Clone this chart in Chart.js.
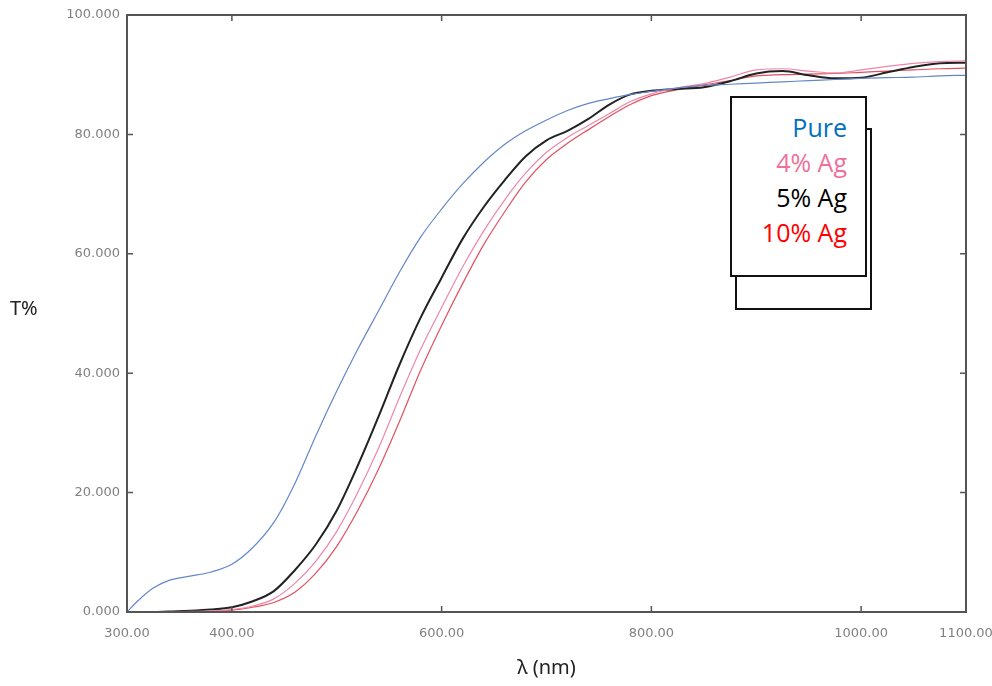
<!DOCTYPE html>
<html>
<head>
<meta charset="utf-8">
<script src="https://cdn.jsdelivr.net/npm/chart.js@4.4.0/dist/chart.umd.min.js"></script>
<style>
  body { margin: 0; background: #fff; }
  #wrap { position: relative; width: 992px; height: 686px; }
  #c { position: absolute; left: 0; top: 0; }
  .ylab { position: absolute; left: 10px; top: 294px; font: 20px "Noto Sans", sans-serif; color: #222; }
  .box { position: absolute; background: #fff; box-sizing: border-box; }
  #back { left: 735px; top: 128px; width: 137px; height: 182px; border: 2px solid #111; }
  #front { left: 730px; top: 96px; width: 137px; height: 181px; border: 2px solid #111;
           text-align: right; padding: 12px 18px 0 0; font: 25px "Open Sans", sans-serif; line-height: 35px; }
</style>
</head>
<body>
<div id="wrap">
  <canvas id="c" width="992" height="686"></canvas>
  <div class="ylab">T%</div>
  <div class="box" id="back"></div>
  <div class="box" id="front"></div>
</div>
<script>
// wavelength (nm)
const wavelengths = [300, 310, 325, 340, 360, 380, 400, 420, 440, 460, 480, 500, 520, 540, 560, 580, 600,
  620, 640, 660, 680, 700, 720, 740, 760, 780, 800, 825, 850, 875, 900, 925, 950, 975, 1000, 1025, 1050, 1075, 1100];

// transmittance T%
const pure = [0, 1.8, 4.0, 5.3, 6.0, 6.7, 8.0, 10.8, 15.0, 21.5, 29.5, 37.0, 44.0, 50.5, 57.0, 62.8, 67.5,
  71.7, 75.3, 78.3, 80.6, 82.4, 84.0, 85.2, 86.0, 86.7, 87.2, 87.8, 88.2, 88.4, 88.6, 88.8, 89.0, 89.2, 89.4, 89.5, 89.6, 89.8, 89.9];
const ag4 = [0, 0, 0, 0, 0.1, 0.2, 0.4, 1.0, 2.2, 4.8, 8.5, 13.5, 20.0, 27.5, 36.0, 44.0, 51.0,
  57.8, 63.8, 69.0, 73.5, 77.0, 79.5, 81.5, 83.5, 85.5, 86.8, 87.8, 88.5, 89.6, 90.8, 91.0, 90.6, 90.3, 90.8, 91.4, 91.9, 92.2, 92.3];
const ag5 = [0, 0, 0, 0.1, 0.2, 0.4, 0.8, 1.8, 3.5, 7.0, 11.3, 17.0, 24.5, 32.8, 41.5, 49.3, 56.0,
  62.5, 67.8, 72.3, 76.3, 79.0, 80.6, 82.6, 85.0, 86.7, 87.3, 87.6, 87.9, 88.9, 90.2, 90.6, 89.9, 89.4, 89.5, 90.4, 91.3, 91.9, 92.0];
const ag10 = [0, 0, 0, 0, 0.1, 0.1, 0.3, 0.8, 1.6, 3.3, 6.5, 11.0, 17.0, 24.0, 32.0, 40.5, 48.0,
  55.0, 61.5, 67.0, 72.0, 75.8, 78.5, 80.8, 83.0, 85.0, 86.5, 87.5, 88.3, 89.0, 89.8, 90.0, 90.1, 90.2, 90.4, 90.6, 90.8, 91.0, 91.1];

const xTicks = [300, 400, 600, 800, 1000, 1100];
const yTicks = [0, 20, 40, 60, 80, 100];

const seriesNames = ['Pure', '4% Ag', '5% Ag', '10% Ag'];
const legendColors = ['#0070c0', '#f0709a', '#000000', '#ff0000'];
const lineColors = ['#6487c8', '#ef86a8', '#222222', '#e2505e'];
const lineWidths = [1.2, 1.2, 2, 1.2];

const front = document.getElementById('front');
seriesNames.forEach((n, i) => {
  const d = document.createElement('div');
  d.textContent = n;
  d.style.color = legendColors[i];
  front.appendChild(d);
});

const toPts = arr => wavelengths.map((w, i) => ({ x: w, y: arr[i] }));

// box round the plot plus short inward ticks
const frame = {
  id: 'frame',
  afterDatasetsDraw(chart) {
    const { ctx, chartArea: a, scales } = chart;
    ctx.save();
    ctx.strokeStyle = '#555';
    ctx.lineWidth = 2;
    ctx.strokeRect(a.left, a.top, a.right - a.left, a.bottom - a.top);
    ctx.lineWidth = 1.5;
    ctx.beginPath();
    [400, 600, 800, 1000].forEach(v => {
      const x = scales.x.getPixelForValue(v);
      ctx.moveTo(x, a.bottom); ctx.lineTo(x, a.bottom - 6);
      ctx.moveTo(x, a.top); ctx.lineTo(x, a.top + 6);
    });
    [20, 40, 60, 80].forEach(v => {
      const y = scales.y.getPixelForValue(v);
      ctx.moveTo(a.left, y); ctx.lineTo(a.left + 6, y);
      ctx.moveTo(a.right, y); ctx.lineTo(a.right - 6, y);
    });
    ctx.stroke();
    ctx.restore();
  }
};

new Chart(document.getElementById('c'), {
  type: 'line',
  data: {
    datasets: [pure, ag4, ag5, ag10].map((arr, i) => ({
      label: seriesNames[i],
      data: toPts(arr),
      borderColor: lineColors[i],
      borderWidth: lineWidths[i],
      pointRadius: 0,
      cubicInterpolationMode: 'monotone',
      fill: false
    }))
  },
  options: {
    responsive: false,
    animation: false,
    devicePixelRatio: 1,
    layout: { padding: { left: 0, right: 26, top: 15, bottom: 0 } },
    plugins: { legend: { display: false }, tooltip: { enabled: false } },
    scales: {
      x: {
        type: 'linear',
        min: 300,
        max: 1100,
        afterBuildTicks: s => { s.ticks = xTicks.map(v => ({ value: v })); },
        afterFit: s => { s.height = 74; s.paddingLeft = 0; s.paddingRight = 0; },
        grid: { display: true, drawOnChartArea: false, drawTicks: false },
        border: { display: false },
        ticks: {
          padding: 14,
          color: '#808080',
          font: { family: 'DejaVu Sans', size: 13 },
          maxRotation: 0,
          autoSkip: false,
          callback: v => Number(v).toFixed(2)
        },
        title: {
          display: true,
          text: 'λ (nm)',
          color: '#222',
          font: { family: 'Noto Sans', size: 20 },
          padding: { top: 0, bottom: 6 }
        }
      },
      y: {
        min: 0,
        max: 100,
        afterBuildTicks: s => { s.ticks = yTicks.map(v => ({ value: v })); },
        afterFit: s => { s.width = 127; s.paddingTop = 0; s.paddingBottom = 0; },
        grid: { display: true, drawOnChartArea: false, drawTicks: false },
        border: { display: false },
        ticks: {
          padding: 7,
          color: '#808080',
          font: { family: 'DejaVu Sans', size: 13 },
          callback: v => Number(v).toFixed(3)
        }
      }
    }
  },
  plugins: [frame]
});
</script>
</body>
</html>
